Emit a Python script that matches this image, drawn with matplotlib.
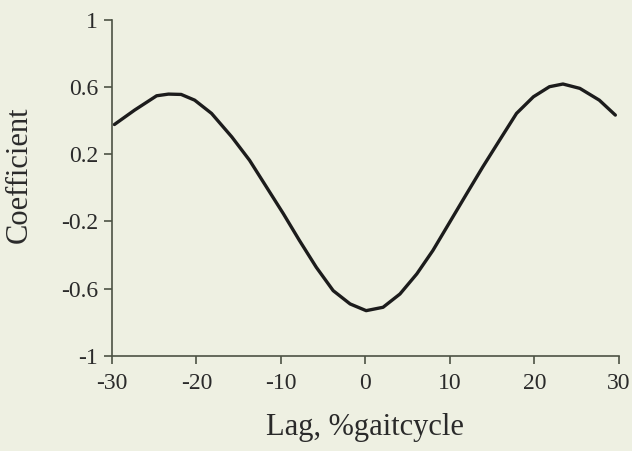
import matplotlib.pyplot as plt

# Cross-correlation coefficient vs lag
lag = [-29.7, -27.3, -24.7, -23.3, -21.8, -20.2, -18.2, -15.8, -13.7, -11.7,
       -9.7, -7.8, -5.8, -3.8, -1.8, 0.1, 2.1, 4.1, 6.1, 8.0,
       10.0, 12.0, 13.9, 15.9, 17.9, 19.9, 21.8, 23.4, 25.4, 27.7, 29.6]
coef = [0.377, 0.463, 0.548, 0.558, 0.556, 0.522, 0.443, 0.303, 0.164, 0.005,
        -0.154, -0.313, -0.473, -0.612, -0.691, -0.731, -0.711, -0.632, -0.512, -0.373,
        -0.204, -0.035, 0.124, 0.284, 0.443, 0.542, 0.602, 0.618, 0.592, 0.522, 0.433]

x_ticks = [-30, -20, -10, 0, 10, 20, 30]
y_ticks = [-1, -0.6, -0.2, 0.2, 0.6, 1]
y_labels = ["-1", "-0.6", "-0.2", "0.2", "0.6", "1"]

bg = "#eef0e2"
axis_col = "#4c5244"
text_col = "#2a2a2a"

plt.rcParams['font.family'] = ['Liberation Serif', 'DejaVu Serif']

fig = plt.figure(figsize=(6.32, 4.51), dpi=100, facecolor=bg)
ax = fig.add_axes([0.177, 0.211, 0.802, 0.745], facecolor=bg)

ax.plot(lag, coef, color="#1c1c1c", linewidth=2.4,
        solid_joinstyle="round", solid_capstyle="round")

ax.set_xlim(-30, 30)
ax.set_ylim(-1, 1)
ax.set_xticks(x_ticks)
ax.set_xticklabels([str(t) for t in x_ticks])
ax.set_yticks(y_ticks)
ax.set_yticklabels(y_labels)

for side in ["top", "right"]:
    ax.spines[side].set_visible(False)
for side in ["left", "bottom"]:
    ax.spines[side].set_color(axis_col)
    ax.spines[side].set_linewidth(1.2)

ax.tick_params(axis="both", colors=axis_col, labelcolor=text_col,
               labelsize=17, length=6, width=1.2, direction="out")
ax.tick_params(axis="x", pad=6)
ax.tick_params(axis="y", pad=4)

ax.set_xlabel("Lag, %gaitcycle", fontsize=22, color=text_col, labelpad=14)
ax.set_ylabel("Coefficient", fontsize=22, color=text_col)
ax.yaxis.set_label_coords(-0.155, 0.54)

fig.savefig("out.png", dpi=100, facecolor=bg)
